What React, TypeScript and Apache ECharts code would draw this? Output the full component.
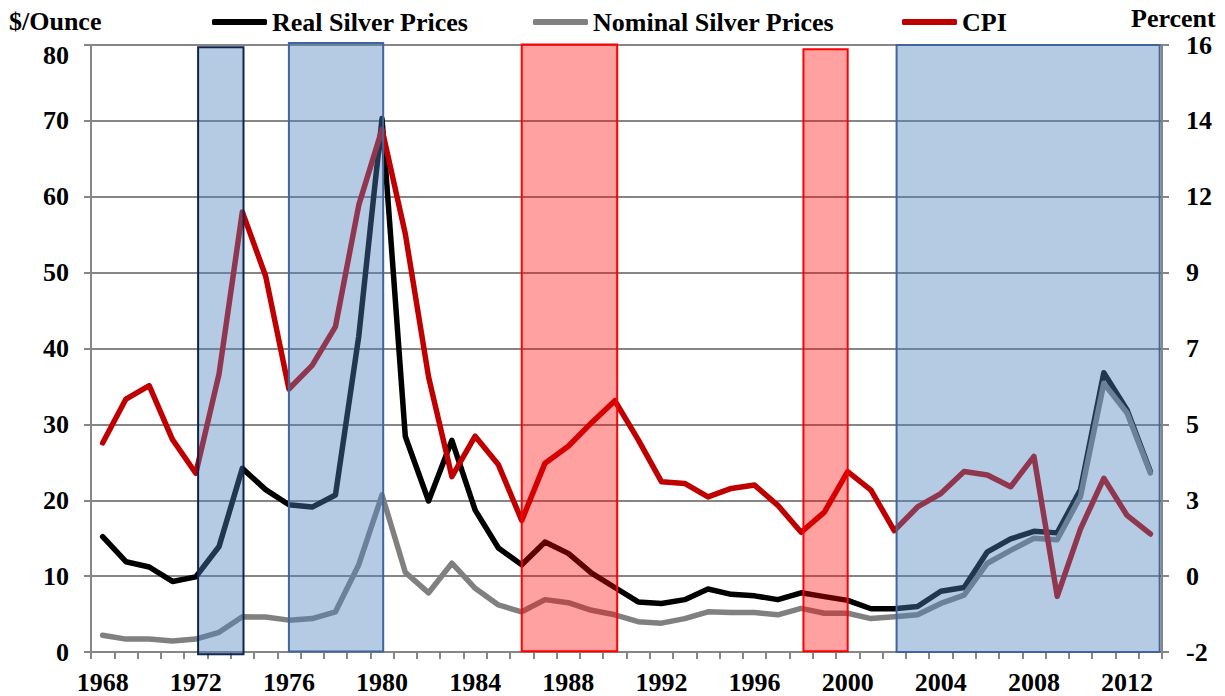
import React, { useEffect, useRef } from "react";
import * as echarts from "echarts";

const years: string[] = [];
for (let y = 1968; y <= 2013; y++) years.push(String(y));

const realPrices = [
  15.2, 11.9, 11.2, 9.3, 9.9, 13.9, 24.2, 21.4, 19.4, 19.1,
  20.7, 41.6, 70.3, 28.4, 19.9, 27.9, 18.7, 13.7, 11.5, 14.5,
  13.0, 10.4, 8.5, 6.6, 6.4, 6.9, 8.3, 7.6, 7.4, 6.9,
  7.8, 7.3, 6.8, 5.7, 5.7, 6.0, 8.0, 8.5, 13.2, 14.9,
  15.9, 15.7, 21.4, 36.8, 31.9, 23.8,
];

const nominalPrices = [
  2.2, 1.7, 1.7, 1.45, 1.7, 2.6, 4.65, 4.6, 4.2, 4.4,
  5.3, 11.5, 20.7, 10.5, 7.8, 11.7, 8.4, 6.2, 5.3, 6.9,
  6.5, 5.5, 4.9, 4.0, 3.8, 4.4, 5.3, 5.2, 5.2, 4.9,
  5.75, 5.1, 5.1, 4.4, 4.65, 4.9, 6.4, 7.5, 11.7, 13.4,
  15.0, 14.8, 20.5, 35.4, 31.5, 23.6,
];

const cpi = [
  4.2, 5.5, 5.9, 4.3, 3.3, 6.25, 11.05, 9.15, 5.8, 6.5,
  7.65, 11.25, 13.5, 10.4, 6.15, 3.2, 4.4, 3.55, 1.9, 3.6,
  4.1, 4.8, 5.45, 4.3, 3.05, 3.0, 2.6, 2.85, 2.95, 2.35,
  1.55, 2.15, 3.35, 2.8, 1.6, 2.3, 2.7, 3.35, 3.25, 2.9,
  3.8, -0.35, 1.65, 3.15, 2.05, 1.5,
];

// shaded periods (in year units on a continuous scale, and $/ounce on the left axis)
const shadeFrom = [1972.1, 1976.0, 1986.0, 1998.1, 2002.1];
const shadeTo = [1974.05, 1980.05, 1990.1, 2000.0, 2013.4];
const shadeTop = [79.7, 80.25, 80.05, 79.45, 80.0];
const shadeBottom = [-0.3, 0.05, 0.1, 0.1, 0.0];
const shadeKind = ["navy", "blue", "red", "red", "blue"];

const leftTicks = { min: 0, max: 80, interval: 10 };
const rightTicks = { min: -2, max: 16, interval: 2.25 };

const FONT = "Liberation Serif";

const shadeStyles: Record<string, { fill: string; stroke: string }> = {
  navy: { fill: "rgba(79,129,189,0.42)", stroke: "#10224f" },
  blue: { fill: "rgba(79,129,189,0.42)", stroke: "#41659a" },
  red: { fill: "rgba(255,0,0,0.37)", stroke: "#ff0000" },
};

export default function App() {
  const ref = useRef<HTMLDivElement>(null);

  useEffect(() => {
    if (!ref.current) return;
    const chart = echarts.init(ref.current, undefined, { renderer: "svg" });
    const labelStyle = {
      fontFamily: FONT,
      fontWeight: "bold" as const,
      fontSize: 26,
      color: "#000",
    };
    const gray = "#868686";

    const shadeData = shadeFrom.map((f, i) => [f, shadeTo[i], shadeTop[i], shadeBottom[i]]);

    const legendCommon = {
      top: 9,
      padding: 0,
      itemWidth: 55,
      itemHeight: 6,
      itemGap: 5,
      icon: "roundRect",
      textStyle: { ...labelStyle },
      selectedMode: false,
    };

    chart.setOption({
      animation: false,
      backgroundColor: "#ffffff",
      title: [
        { text: "$/Ounce", left: 9, top: 8, textStyle: labelStyle, padding: 0 },
        { text: "Percent", left: 1131, top: 5, textStyle: labelStyle, padding: 0 },
      ],
      legend: [
        { ...legendCommon, left: 212, data: ["Real Silver Prices"] },
        { ...legendCommon, left: 533, data: ["Nominal Silver Prices"] },
        { ...legendCommon, left: 902, data: ["CPI"] },
      ],
      grid: { left: 91, right: 63, top: 45, bottom: 44, containLabel: false },
      xAxis: [
        {
          type: "category",
          data: years,
          boundaryGap: true,
          axisLine: { show: true, lineStyle: { color: gray, width: 2 } },
          axisTick: { show: true, interval: 0, length: 7, lineStyle: { color: gray, width: 2 } },
          axisLabel: { ...labelStyle, interval: 3, margin: 17 },
          splitLine: { show: false },
        },
        {
          type: "value",
          min: 1967.5,
          max: 2013.5,
          show: false,
          splitLine: { show: false },
        },
      ],
      yAxis: [
        {
          type: "value",
          position: "left",
          ...leftTicks,
          axisLine: { show: true, lineStyle: { color: gray, width: 2 } },
          axisTick: { show: true, length: 7, lineStyle: { color: gray, width: 2 } },
          axisLabel: {
            ...labelStyle,
            margin: 22,
            formatter: (v: number) => (v === 80 ? "{top|80}" : String(v)),
            rich: { top: { ...labelStyle, padding: [20, 0, 0, 0] } },
          },
          splitLine: { show: true, lineStyle: { color: gray, width: 1.8 } },
        },
        {
          type: "value",
          position: "right",
          ...rightTicks,
          axisLine: { show: true, lineStyle: { color: gray, width: 2 } },
          axisTick: { show: true, length: 7, lineStyle: { color: gray, width: 2 } },
          axisLabel: {
            ...labelStyle,
            margin: 24,
            formatter: (v: number) => String(Math.round(v)),
          },
          splitLine: { show: false },
        },
      ],
      series: [
        {
          name: "Real Silver Prices",
          type: "line",
          data: realPrices,
          xAxisIndex: 0,
          yAxisIndex: 0,
          showSymbol: false,
          symbol: "none",
          color: "#000000",
          lineStyle: { width: 5.5, color: "#000000", join: "round", cap: "round" },
          z: 2,
        },
        {
          name: "Nominal Silver Prices",
          type: "line",
          data: nominalPrices,
          xAxisIndex: 0,
          yAxisIndex: 0,
          showSymbol: false,
          symbol: "none",
          color: "#808080",
          lineStyle: { width: 5.5, color: "#808080", join: "round", cap: "round" },
          z: 3,
        },
        {
          name: "CPI",
          type: "line",
          data: cpi,
          xAxisIndex: 0,
          yAxisIndex: 1,
          showSymbol: false,
          symbol: "none",
          color: "#c00000",
          lineStyle: { width: 5.5, color: "#c00000", join: "round", cap: "round" },
          z: 4,
        },
        {
          name: "shades",
          type: "custom",
          xAxisIndex: 1,
          yAxisIndex: 0,
          z: 10,
          silent: true,
          clip: false,
          data: shadeData,
          encode: { x: [0, 1], y: [2, 3] },
          renderItem: (params: any, api: any) => {
            const p0 = api.coord([api.value(0), api.value(2)]);
            const p1 = api.coord([api.value(1), api.value(3)]);
            const st = shadeStyles[shadeKind[params.dataIndex]];
            return {
              type: "rect",
              shape: { x: p0[0], y: p0[1], width: p1[0] - p0[0], height: p1[1] - p0[1] },
              style: { fill: st.fill, stroke: st.stroke, lineWidth: 2 },
            };
          },
        },
      ],
    });
    return () => chart.dispose();
  }, []);

  return (
    <div
      ref={ref}
      style={{ position: "fixed", left: 0, top: 0, width: 1225, height: 696, background: "#fff" }}
    />
  );
}
